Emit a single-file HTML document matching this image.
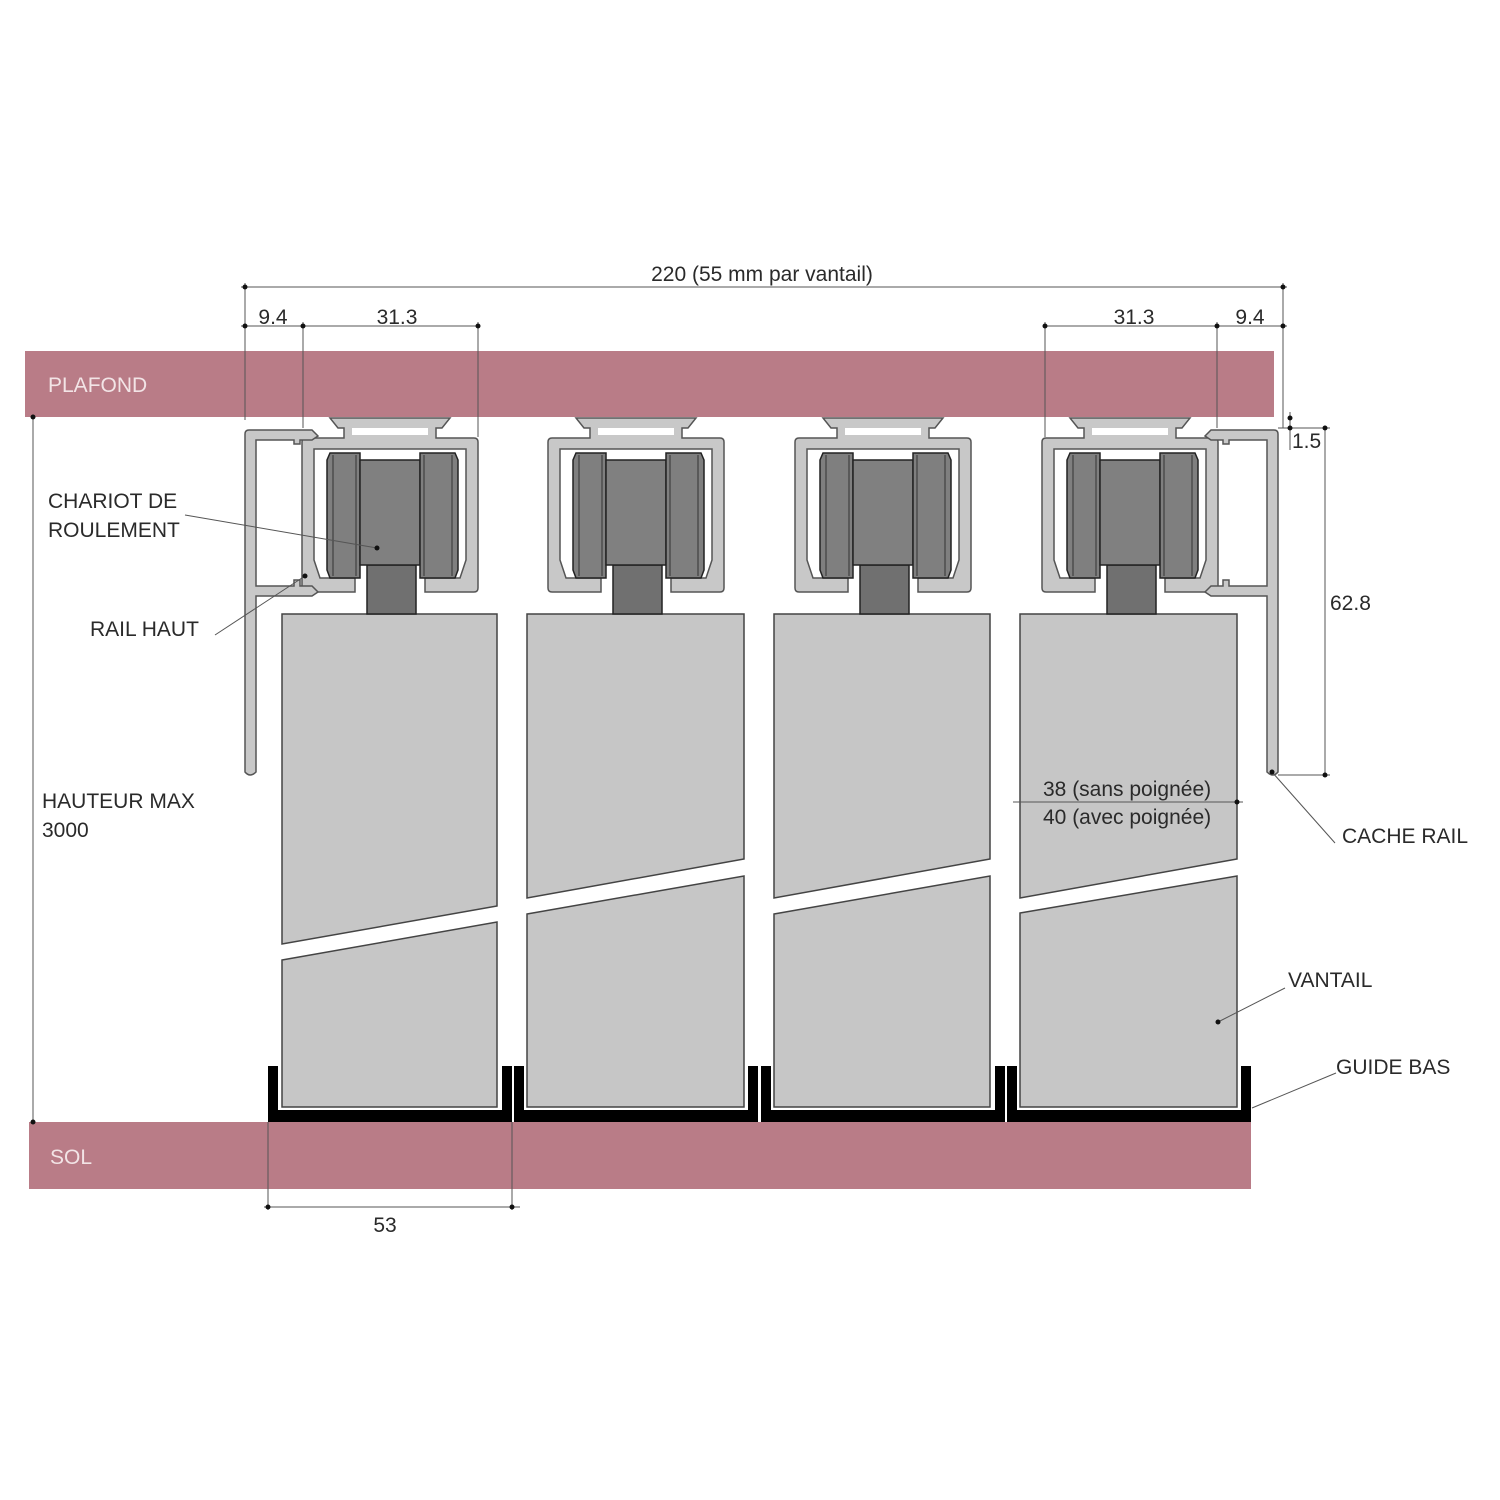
<!DOCTYPE html>
<html><head><meta charset="utf-8"><style>
html,body{margin:0;padding:0;background:#fff}
svg{display:block}
text{font-family:"Liberation Sans",sans-serif;font-size:21px;fill:#2a2a2a}
</style></head><body>
<svg width="1500" height="1500" viewBox="0 0 1500 1500" xmlns="http://www.w3.org/2000/svg">
<defs>
<g id="car">
  <path d="M-60 418 H60 L52 428 H46 V438 H84 Q88 438 88 442 V588 Q88 592 84 592 H35 V578 H70 L76 560 V449 H-76 V560 L-70 578 H-35 V592 H-84 Q-88 592 -88 588 V442 Q-88 438 -84 438 H-46 V428 H-52 Z" fill="#c8c8c8" stroke="#555" stroke-width="1.5"/>
  <rect x="-38" y="428" width="76" height="7" fill="#fff"/>
  <rect x="-23" y="565" width="49" height="49" fill="#707070" stroke="#222" stroke-width="1.5"/>
  <path d="M-60 453 H-30 V578 H-60 L-63 570 V460 Z" fill="#7f7f7f" stroke="#222" stroke-width="1.5"/>
  <rect x="-30" y="460" width="60" height="105" fill="#808080" stroke="#222" stroke-width="1.5"/>
  <path d="M30 453 H65 L68 460 V570 L65 578 H30 Z" fill="#7f7f7f" stroke="#222" stroke-width="1.5"/>
  <line x1="-57" y1="455" x2="-57" y2="576" stroke="#333"/>
  <line x1="-34" y1="455" x2="-34" y2="576" stroke="#333"/>
  <line x1="34" y1="455" x2="34" y2="576" stroke="#333"/>
  <line x1="62" y1="455" x2="62" y2="576" stroke="#333"/>
</g>
<g id="guide">
  <path d="M0 1066 H10 V1110 H234 V1066 H244 V1122 H0 Z" fill="#000"/>
</g>
</defs>

<!-- ceiling & floor -->
<rect x="25" y="351" width="1249" height="66" fill="#b97c87"/>
<text x="48" y="392" style="fill:#f2e4e6">PLAFOND</text>
<rect x="29" y="1122" width="1222" height="67" fill="#b97c87"/>
<text x="50" y="1164" style="fill:#f2e4e6">SOL</text>

<!-- panels -->
<g fill="#c6c6c6" stroke="#444" stroke-width="1.5">
  <path d="M282 614 H497 V906 L282 944 Z"/>
  <path d="M282 960 L497 922 V1107 H282 Z"/>
  <path d="M527 614 H744 V859 L527 898 Z"/>
  <path d="M527 914 L744 876 V1107 H527 Z"/>
  <path d="M774 614 H990 V859 L774 898 Z"/>
  <path d="M774 914 L990 876 V1107 H774 Z"/>
  <path d="M1020 614 H1237 V859 L1020 898 Z"/>
  <path d="M1020 913 L1237 876 V1107 H1020 Z"/>
</g>

<!-- guides -->
<use href="#guide" x="268"/>
<use href="#guide" x="514"/>
<use href="#guide" x="761"/>
<use href="#guide" x="1007"/>

<!-- carriages -->
<use href="#car" x="390"/>
<use href="#car" x="636"/>
<use href="#car" x="883"/>
<use href="#car" x="1130"/>

<!-- cache rails -->
<path d="M245 434 Q245 430 249 430 H312 L318 436 L312 440 H300 V444 H294 V440 H256 V586 H294 V580 H300 V586 H312 L318 592 L312 596 H256 V772 Q250 778 245 772 Z" fill="#c8c8c8" stroke="#555" stroke-width="1.5"/>
<path d="M1278 434 Q1278 430 1274 430 H1211 L1205 436 L1211 440 H1223 V444 H1229 V440 H1267 V586 H1229 V580 H1223 V586 H1211 L1205 592 L1211 596 H1267 V772 Q1273 778 1278 772 Z" fill="#c8c8c8" stroke="#555" stroke-width="1.5"/>

<!-- dimension lines -->
<g stroke="#555" stroke-width="1" fill="none">
  <line x1="241" y1="287" x2="1287" y2="287"/>
  <line x1="245" y1="283" x2="245" y2="420"/>
  <line x1="1283" y1="283" x2="1283" y2="428"/>
  <line x1="241" y1="326" x2="480" y2="326"/>
  <line x1="303" y1="322" x2="303" y2="428"/>
  <line x1="478" y1="322" x2="478" y2="437"/>
  <line x1="1043" y1="326" x2="1287" y2="326"/>
  <line x1="1045" y1="322" x2="1045" y2="437"/>
  <line x1="1217" y1="322" x2="1217" y2="428"/>
  <line x1="1290" y1="412" x2="1290" y2="450"/>
  <line x1="1278" y1="428" x2="1330" y2="428"/>
  <line x1="1278" y1="775" x2="1330" y2="775"/>
  <line x1="1325" y1="428" x2="1325" y2="775"/>
  <line x1="33" y1="417" x2="33" y2="1122"/>
  <line x1="268" y1="1122" x2="268" y2="1210"/>
  <line x1="512" y1="1122" x2="512" y2="1210"/>
  <line x1="264" y1="1207" x2="520" y2="1207"/>
  <line x1="1013" y1="802" x2="1243" y2="802"/>
  <line x1="185" y1="515" x2="377" y2="548"/>
  <line x1="215" y1="635" x2="305" y2="576"/>
  <line x1="1335" y1="843" x2="1272" y2="772"/>
  <line x1="1285" y1="988" x2="1218" y2="1022"/>
  <line x1="1336" y1="1073" x2="1252" y2="1108"/>
</g>
<g fill="#111">
  <circle cx="245" cy="287" r="2.5"/><circle cx="1283" cy="287" r="2.5"/>
  <circle cx="245" cy="326" r="2.5"/><circle cx="303" cy="326" r="2.5"/><circle cx="478" cy="326" r="2.5"/>
  <circle cx="1045" cy="326" r="2.5"/><circle cx="1217" cy="326" r="2.5"/><circle cx="1283" cy="326" r="2.5"/>
  <circle cx="1290" cy="418" r="2.5"/><circle cx="1290" cy="428" r="2.5"/>
  <circle cx="1325" cy="428" r="2.5"/><circle cx="1325" cy="775" r="2.5"/>
  <circle cx="33" cy="417" r="2.5"/><circle cx="33" cy="1122" r="2.5"/>
  <circle cx="268" cy="1207" r="2.5"/><circle cx="512" cy="1207" r="2.5"/>
  <circle cx="1237" cy="802" r="2.5"/>
  <circle cx="377" cy="548" r="2.5"/><circle cx="305" cy="576" r="2.5"/>
  <circle cx="1272" cy="772" r="2.5"/><circle cx="1218" cy="1022" r="2.5"/>
</g>

<!-- labels -->
<text x="762" y="281" text-anchor="middle">220 (55 mm par vantail)</text>
<text x="273" y="324" text-anchor="middle">9.4</text>
<text x="397" y="324" text-anchor="middle">31.3</text>
<text x="1134" y="324" text-anchor="middle">31.3</text>
<text x="1250" y="324" text-anchor="middle">9.4</text>
<text x="1292" y="448">1.5</text>
<text x="1330" y="610">62.8</text>
<text x="48" y="508">CHARIOT DE</text>
<text x="48" y="537">ROULEMENT</text>
<text x="90" y="636">RAIL HAUT</text>
<text x="42" y="808">HAUTEUR MAX</text>
<text x="42" y="837">3000</text>
<text x="1043" y="796">38 (sans poignée)</text>
<text x="1043" y="824">40 (avec poignée)</text>
<text x="1342" y="843">CACHE RAIL</text>
<text x="1288" y="987">VANTAIL</text>
<text x="1336" y="1074">GUIDE BAS</text>
<text x="385" y="1232" text-anchor="middle">53</text>
</svg>
</body></html>
